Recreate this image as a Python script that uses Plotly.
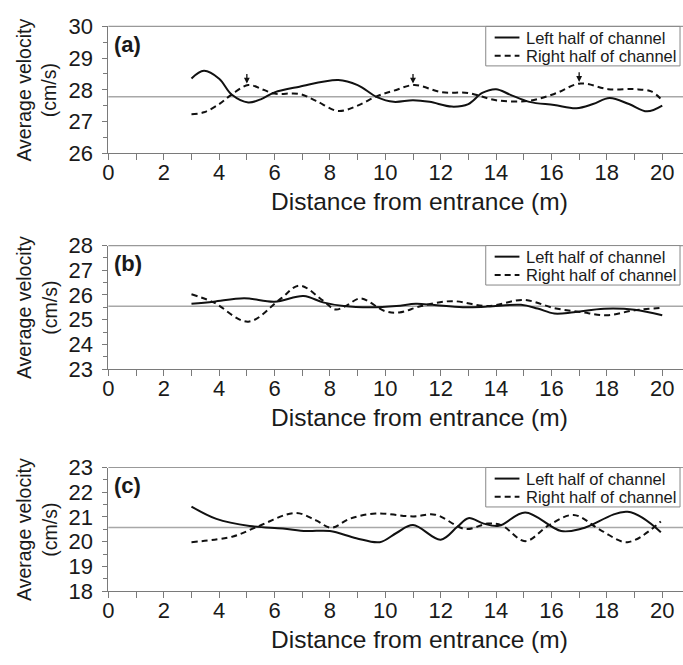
import plotly.graph_objects as go

# ---------------- data ----------------
x_a_left = [3.0, 3.45, 4.0, 4.45, 5.05, 5.5, 6.0, 6.9, 8.3, 9.0, 9.7, 10.3, 11.0, 11.6, 12.4, 13.0, 13.5, 14.0, 14.5, 15.2, 16.1, 16.9, 17.5, 18.1, 18.8, 19.45, 20.0]
y_a_left = [28.36, 28.60, 28.35, 27.85, 27.60, 27.70, 27.92, 28.10, 28.31, 28.15, 27.77, 27.62, 27.67, 27.62, 27.47, 27.55, 27.90, 28.02, 27.85, 27.62, 27.52, 27.42, 27.55, 27.74, 27.55, 27.32, 27.50]
x_a_right = [3.0, 3.45, 4.0, 4.45, 5.05, 5.6, 6.0, 6.9, 7.5, 8.3, 9.0, 9.7, 10.3, 11.05, 12.05, 13.0, 14.0, 15.15, 16.1, 17.05, 18.05, 19.0, 19.6, 20.0]
y_a_right = [27.23, 27.29, 27.55, 27.85, 28.15, 28.0, 27.88, 27.87, 27.65, 27.33, 27.5, 27.8, 27.97, 28.15, 27.92, 27.90, 27.67, 27.65, 27.87, 28.2, 28.02, 28.02, 27.95, 27.67]

x_b_left = [3.0, 3.8, 4.9, 6.0, 7.05, 7.75, 8.5, 9.45, 10.4, 11.1, 11.7, 12.8, 13.7, 14.9, 15.5, 16.1, 16.8, 17.9, 19.0, 20.0]
y_b_left = [25.64, 25.73, 25.87, 25.73, 25.96, 25.70, 25.55, 25.50, 25.55, 25.64, 25.60, 25.50, 25.53, 25.60, 25.45, 25.25, 25.30, 25.44, 25.40, 25.18]
x_b_right = [3.0, 3.8, 5.05, 6.2, 6.9, 7.75, 8.2, 8.6, 9.1, 10.0, 10.5, 11.3, 12.4, 13.7, 15.0, 16.1, 17.1, 18.0, 19.0, 20.0]
y_b_right = [26.03, 25.70, 24.92, 25.83, 26.38, 25.77, 25.41, 25.57, 25.86, 25.34, 25.29, 25.55, 25.75, 25.55, 25.80, 25.47, 25.30, 25.18, 25.38, 25.48]

x_c_left = [3.0, 3.9, 5.1, 6.3, 7.15, 8.0, 8.95, 9.8, 10.4, 11.0, 12.0, 12.6, 13.0, 13.55, 14.1, 15.05, 16.35, 17.1, 18.75, 19.95]
y_c_left = [21.42, 20.92, 20.63, 20.53, 20.43, 20.43, 20.14, 19.98, 20.35, 20.67, 20.08, 20.60, 20.95, 20.73, 20.64, 21.18, 20.43, 20.53, 21.21, 20.38]
x_c_right = [3.0, 4.5, 5.35, 6.75, 7.5, 8.05, 8.7, 9.65, 11.0, 11.8, 12.9, 13.7, 14.2, 15.05, 15.9, 16.8, 17.8, 18.75, 19.95]
y_c_right = [19.98, 20.21, 20.59, 21.16, 20.86, 20.56, 20.92, 21.14, 21.02, 21.09, 20.51, 20.73, 20.66, 20.02, 20.66, 21.08, 20.45, 19.98, 20.82]

mean_values = [27.78, 25.54, 20.57]
y_ranges = [[26, 30], [23, 28], [18, 23]]
panel_labels = ["(a)", "(b)", "(c)"]
arrow_x = [5, 11, 17]
arrow_tip = [28.2, 28.2, 28.25]
arrow_tail = [28.55, 28.55, 28.6]
x_title = "Distance from entrance (m)"
y_title = "Average velocity<br>(cm/s)"
name_left = "Left half of channel"
name_right = "Right half of channel"

# ---------------- layout geometry ----------------
W, H = 683, 665
plot_left = 103.3
panel_px = [(15, 146.7), (242.7, 371), (473.3, 601.7)]
x_range = [0, 20.75]

FONT = "Liberation Sans, Arial, sans-serif"
TXT = "#1a1a1a"
AX = "#7a7a7a"

fig = go.Figure()

series = [
    (x_a_left, y_a_left, x_a_right, y_a_right),
    (x_b_left, y_b_left, x_b_right, y_b_right),
    (x_c_left, y_c_left, x_c_right, y_c_right),
]

LINE_L = dict(color="#111", width=2)
LINE_R = dict(color="#111", width=2, dash="6px,4px")

for i, (xl, yl, xr, yr) in enumerate(series):
    n = "" if i == 0 else str(i + 1)
    fig.add_trace(go.Scatter(x=xl, y=yl, mode="lines", name=name_left,
                             line=dict(**LINE_L, shape="spline", smoothing=1.0),
                             xaxis="x" + n, yaxis="y" + n, showlegend=False))
    fig.add_trace(go.Scatter(x=xr, y=yr, mode="lines", name=name_right,
                             line=dict(**LINE_R, shape="spline", smoothing=1.0),
                             xaxis="x" + n, yaxis="y" + n, showlegend=False))

layout = dict(width=W, height=H, margin=dict(l=0, r=0, t=0, b=0),
              paper_bgcolor="white", plot_bgcolor="white",
              font=dict(family=FONT, color=TXT), showlegend=False)

annotations = []
shapes = []
for i in range(3):
    n = "" if i == 0 else str(i + 1)
    top, bot = panel_px[i]
    dom_y = [1 - bot / H, 1 - top / H]
    layout["xaxis" + n] = dict(domain=[plot_left / W, 1.0], range=x_range, anchor="y" + n,
                               dtick=2, tick0=0, ticks="outside", ticklen=6, tickcolor=AX,
                               showline=True, linecolor=AX, linewidth=1.2, showgrid=False, zeroline=False,
                               tickfont=dict(size=22, color=TXT), ticklabelstandoff=-7,
                               minor=dict(dtick=1, ticks="outside", ticklen=6, tickcolor=AX))
    layout["yaxis" + n] = dict(domain=dom_y, range=y_ranges[i], anchor="x" + n,
                               dtick=1, ticks="outside", ticklen=5, tickcolor=AX,
                               showline=True, linecolor=AX, linewidth=1.2, showgrid=False, zeroline=False,
                               tickfont=dict(size=22, color=TXT), ticklabelstandoff=5,
                               minor=dict(dtick=0.5, ticks="outside", ticklen=4, tickcolor=AX))
    # top border
    shapes.append(dict(type="line", xref=f"x{n} domain", yref=f"y{n} domain", x0=0, x1=1, y0=1, y1=1,
                       line=dict(color="#999", width=1.2)))
    # mean line
    shapes.append(dict(type="line", xref=f"x{n} domain", yref="y" + n, x0=0, x1=1,
                       y0=mean_values[i], y1=mean_values[i], line=dict(color="#a8a8a8", width=1.5),
                       layer="below"))
    # legend box (manual)
    lx0, lx1 = 484 / W, 680 / W
    ly1 = 1 - top / H
    ly0 = 1 - (top + 41) / H
    shapes.append(dict(type="rect", xref="paper", yref="paper", x0=lx0, x1=lx1, y0=ly0, y1=ly1,
                       fillcolor="white", line=dict(color="#888", width=1)))
    for r, (nm, ln) in enumerate([(name_left, LINE_L), (name_right, LINE_R)]):
        yy = 1 - (top + 11.5 + r * 19) / H
        shapes.append(dict(type="line", xref="paper", yref="paper", x0=493 / W, x1=518 / W,
                           y0=yy, y1=yy, line=ln))
        annotations.append(dict(text=nm, xref="paper", yref="paper", x=523 / W, y=yy,
                                xanchor="left", yanchor="middle", showarrow=False,
                                font=dict(size=16.5, color=TXT)))
    # panel label
    annotations.append(dict(text="<b>" + panel_labels[i] + "</b>", xref="paper", yref="paper",
                            x=107 / W, y=1 - (top + 19) / H, xanchor="left", yanchor="middle",
                            showarrow=False, font=dict(size=22, color=TXT)))
    # y title
    annotations.append(dict(text=y_title, xref="paper", yref="paper", x=31 / W, y=(dom_y[0] + dom_y[1]) / 2,
                            xanchor="center", yanchor="middle", textangle=-90, showarrow=False,
                            font=dict(size=19.5, color=TXT)))
    # x title
    annotations.append(dict(text=x_title, xref="paper", yref="paper", x=417 / W, y=1 - (bot + 50.5) / H,
                            xanchor="center", yanchor="middle", showarrow=False,
                            font=dict(size=24.5, color=TXT)))

for xa, tip, tail in zip(arrow_x, arrow_tip, arrow_tail):
    annotations.append(dict(x=xa, y=tip, ax=xa, ay=tail, xref="x", yref="y", axref="x", ayref="y",
                            text="", showarrow=True, arrowhead=2, arrowsize=0.9, arrowwidth=1.3,
                            arrowcolor="#111"))

layout["annotations"] = annotations
layout["shapes"] = shapes
fig.update_layout(**layout)
fig.write_html("out.html")
